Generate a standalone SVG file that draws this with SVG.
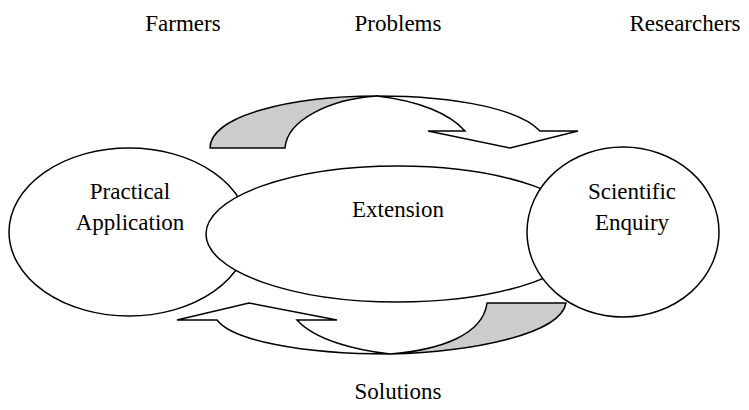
<svg xmlns="http://www.w3.org/2000/svg" width="749" height="410" viewBox="0 0 749 410">
<style>
text{font-family:"Liberation Serif","Times New Roman",serif;font-size:23px;fill:#000;text-anchor:middle}
.n{fill:#fff;stroke:#000;stroke-width:1.5}
.s{fill:#ccc;stroke:#000;stroke-width:1.5;stroke-linejoin:round}
.w{fill:#fff;stroke:#000;stroke-width:1.5;stroke-linejoin:miter}
</style>
<rect width="749" height="410" fill="#fff"/>
<g id="label-farmers"><text x="183" y="31">Farmers</text></g>
<g id="label-problems"><text x="398" y="31">Problems</text></g>
<g id="label-researchers"><text x="685" y="31">Researchers</text></g>
<g id="label-solutions"><text x="398" y="399">Solutions</text></g>
<g id="node-practical">
<ellipse class="n" cx="129" cy="232" rx="120" ry="84"/>
<text x="130" y="199">Practical</text>
<text x="130" y="230">Application</text>
</g>
<g id="node-extension">
<ellipse class="n" cx="398" cy="234" rx="192" ry="68"/>
<text x="398" y="217">Extension</text>
</g>
<g id="node-scientific">
<ellipse class="n" cx="623" cy="232" rx="96" ry="85"/>
<text x="632" y="199">Scientific</text>
<text x="632" y="230">Enquiry</text>
</g>
<g id="connectors">
<g id="arrow-top">
<path class="s" d="M210,148 C210,116 290,96 377,96 C330,99 287,120 285,148 Z"/>
<path class="w" d="M377,96 C460,96 520,110 540,131 L578,131 L510,148 L428,131 L465,131 C450,114 420,101 377,96 Z"/>
</g>
<g id="arrow-bottom">
<path class="s" d="M390,354 C470,352 560,335 566,303 L487,303 C483,335 440,350 390,354 Z"/>
<path class="w" d="M390,354 C300,354 232,340 217,320 L177,320 L249,303 L337,320 L297,320 C315,340 355,350 390,354 Z"/>
</g>
</g>
</svg>
